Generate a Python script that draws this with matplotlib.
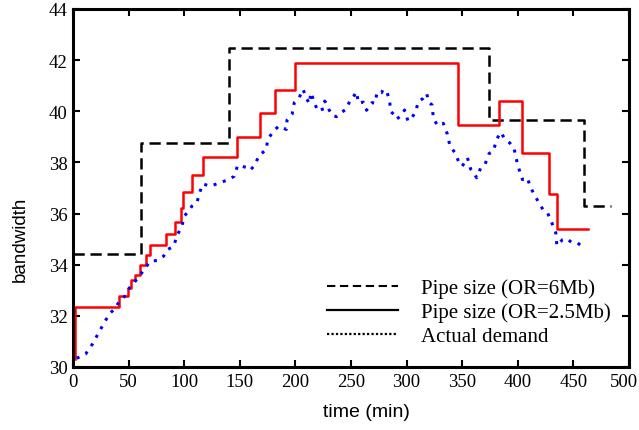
import matplotlib
matplotlib.use("Agg")
import matplotlib.pyplot as plt
import matplotlib.transforms as mtransforms
from matplotlib.lines import Line2D

# Pipe size (OR=6Mb) - step breakpoints
pipe6_t = [0, 61.6, 140, 374.2, 459.7, 484]
pipe6_y = [34.43, 38.75, 42.48, 39.67, 36.3, 36.3]

# Pipe size (OR=2.5Mb) - step breakpoints
pipe25_t = [2, 2, 41.7, 49.8, 52.3, 55.9, 60.4, 65.8, 68.8, 84, 92, 97, 99,
            107, 117, 147.4, 168, 181.4, 199.4, 346, 383, 404, 428, 435, 463]
pipe25_y = [30.3, 32.35, 32.78, 33.09, 33.4, 33.6, 34.0, 34.39, 34.78, 35.2,
            35.67, 36.22, 36.84, 37.52, 38.22, 39.0, 39.92, 40.84, 41.87,
            39.48, 40.4, 38.35, 36.75, 35.41, 35.41]

# Actual demand
demand_t = [3.3, 11.4, 17.4, 22.8, 27.3, 32.7, 37.2, 42.3, 46.8, 50.7, 55.9,
            61.3, 64.9, 69.4, 75.9, 81.4, 85, 90.4, 94, 97.9, 100, 103.9,
            106.9, 111.4, 113.8, 116.8, 123.4, 131.8, 139.9, 145, 148, 152,
            157, 159.5, 163.9, 166.9, 173.9, 175, 180.5, 185, 191.9, 192.5,
            197, 199, 203, 207, 209, 212.6, 214, 217.4, 220, 225.5, 226.4,
            230, 233, 236.9, 241, 245.7, 248.9, 251, 254.7, 257, 261, 264,
            269, 271.4, 273.6, 277.5, 279, 282.6, 284.7, 285.6, 288.6, 291,
            294.6, 298.2, 301.2, 304.2, 308.1, 310.5, 314.7, 318, 320, 323,
            324, 327.6, 333, 336.7, 339, 343.5, 347, 350, 354.7, 357.7, 360.7,
            363, 366.7, 370.5, 374.2, 378, 381, 384.5, 387.7, 393.7, 396.6,
            398.2, 401.5, 404.2, 408.5, 411.7, 416, 420.7, 423.7, 426.7,
            430.6, 434.2, 435.1, 440.2, 444.1, 448.4, 453.8, 459.7]
demand_y = [30.34, 30.51, 30.89, 31.32, 31.67, 32.08, 32.26, 32.6, 32.78,
            33.09, 33.35, 33.65, 33.87, 34.13, 34.17, 34.33, 34.59, 34.72,
            35.18, 35.5, 35.9, 36.09, 36.29, 36.42, 36.81, 37.16, 37.07, 37.2,
            37.33, 37.46, 37.88, 37.85, 37.79, 37.7, 37.92, 38.25, 38.51,
            38.9, 39.23, 39.42, 39.29, 39.66, 39.88, 40.34, 40.5, 40.86,
            40.58, 40.3, 40.73, 40.31, 40.01, 40.1, 40.4, 40.08, 39.84, 39.79,
            39.95, 40.08, 40.4, 40.47, 40.76, 40.31, 40.36, 40.04, 40.34,
            40.31, 40.76, 40.73, 40.86, 40.71, 40.43, 39.99, 39.88, 39.69,
            39.82, 40.05, 39.62, 39.72, 39.97, 40.38, 40.5, 40.7, 40.36,
            40.24, 39.75, 39.45, 39.53, 39.1, 38.64, 38.38, 38.01, 37.85,
            38.18, 37.73, 37.57, 37.4, 37.79, 37.92, 38.35, 38.44, 38.9,
            39.18, 38.97, 38.72, 38.57, 38.2, 37.68, 37.33, 37.4, 37.0,
            36.65, 36.29, 36.09, 36.03, 35.64, 35.24, 34.75, 34.98, 35.02,
            34.87, 34.85, 34.65]

x_ticks = [0, 50, 100, 150, 200, 250, 300, 350, 400, 450, 500]
y_ticks = [30, 32, 34, 36, 38, 40, 42, 44]
legend_labels = ["Pipe size (OR=6Mb)", "Pipe size (OR=2.5Mb)", "Actual demand"]

serif = ["Liberation Serif", "DejaVu Serif"]
sans = ["Liberation Sans", "DejaVu Sans"]

fig = plt.figure(figsize=(6.39, 4.31), dpi=100)
ax = fig.add_axes([73 / 639, 1 - 368 / 431, 556 / 639, 358 / 431])

ax.plot(pipe6_t, pipe6_y, drawstyle="steps-post", color="black",
        linestyle=(0, (4.5, 2.3)), linewidth=1.8)
ax.plot(pipe25_t, pipe25_y, drawstyle="steps-post", color="#ff0000",
        linewidth=1.8)
ax.plot(demand_t, demand_y, color="#0000ff", linestyle=(0, (1, 2.2)),
        linewidth=2.2)

ax.set_xlim(0, 500)
ax.set_ylim(30, 44)
ax.set_xticks(x_ticks)
ax.set_yticks(y_ticks)
ax.set_xticklabels([str(v) for v in x_ticks], family=serif, fontsize=13.5)
ax.set_yticklabels([str(v) for v in y_ticks], family=serif, fontsize=13.5)
ax.tick_params(direction="in", length=5, width=1.5, top=True, right=True,
               pad=4)
for s in ax.spines.values():
    s.set_linewidth(2.2)

# nudge the last x tick label so it stays inside the figure
last = ax.get_xticklabels()[-1]
last.set_transform(last.get_transform() +
                   mtransforms.ScaledTranslation(-5 / 100, 0, fig.dpi_scale_trans))

ax.set_xlabel("time (min)", family=sans, fontsize=14)
ax.xaxis.set_label_coords(0.527, -0.10)
ax.set_ylabel("bandwidth", family=sans, fontsize=13.5)
ax.yaxis.set_label_coords(-0.08, 0.36)

handles = [
    Line2D([], [], color="black", linestyle=(0, (4, 2.2)), linewidth=1.5),
    Line2D([], [], color="black", linestyle="-", linewidth=1.6),
    Line2D([], [], color="black", linestyle=(0, (1, 1)), linewidth=1.6),
]
ax.legend(handles, legend_labels, loc="lower right", frameon=False,
          prop={"family": serif, "size": 15}, handlelength=3.4,
          handletextpad=1.1, labelspacing=0.22,
          bbox_to_anchor=(1.0, 0.005))

fig.savefig("out.png", dpi=100)
